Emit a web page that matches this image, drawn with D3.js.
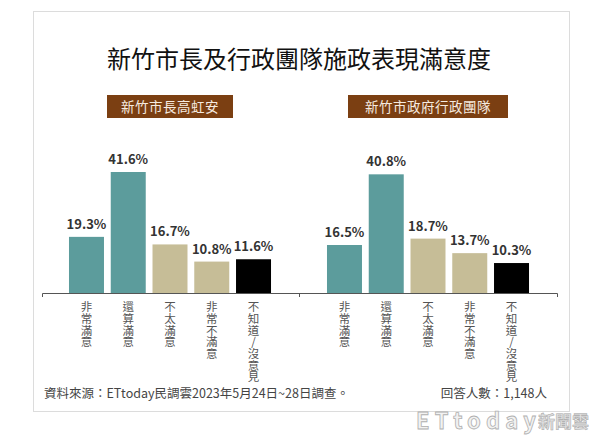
<!DOCTYPE html>
<html>
<head>
<meta charset="utf-8">
<script src="https://cdn.jsdelivr.net/npm/d3@7/dist/d3.min.js"></script>
<style>
  html, body { margin: 0; padding: 0; background: #fff; }
  svg { display: block; }
  text { font-family: "Noto Sans CJK TC", "Noto Sans", sans-serif; }
  .vert { writing-mode: vertical-rl; text-orientation: upright; }
</style>
</head>
<body>
<svg id="chart" width="600" height="435"></svg>
<script>
const title = "新竹市長及行政團隊施政表現滿意度";
const categories = ["非常滿意", "還算滿意", "不太滿意", "非常不滿意", "不知道/沒意見"];
const mayorLabel = "新竹市長高虹安";
const mayorValues = [19.3, 41.6, 16.7, 10.8, 11.6];
const teamLabel = "新竹市政府行政團隊";
const teamValues = [16.5, 40.8, 18.7, 13.7, 10.3];
const colors = ["#5c9c9c", "#5c9c9c", "#c6bd97", "#c6bd97", "#000000"];
const sourceText = "資料來源：ETtoday民調雲2023年5月24日~28日調查。";
const sampleText = "回答人數：1,148人";

const svg = d3.select("#chart");

// frame
svg.append("rect").attr("x", 33.5).attr("y", 11.5).attr("width", 536).attr("height", 400)
  .attr("fill", "#fff").attr("stroke", "#dcdcdc").attr("stroke-width", 1);

// title
svg.append("text").attr("x", 299).attr("y", 68).attr("text-anchor", "middle")
  .attr("font-size", 24).attr("font-weight", 400).attr("fill", "#111").text(title);

const y = d3.scaleLinear().domain([0, 41.6]).range([293, 172]);

function panel(label, values, range, box) {
  const x = d3.scaleBand().domain(categories).range(range).paddingInner(0.162).paddingOuter(0.081);
  const g = svg.append("g");
  // label box
  g.append("rect").attr("x", box[0]).attr("y", 95).attr("width", box[1]).attr("height", 23)
    .attr("fill", "#7b3f12");
  g.append("text").attr("x", box[0] + box[1] / 2).attr("y", 111.5).attr("text-anchor", "middle")
    .attr("font-size", 13.5).attr("fill", "#f6ebe0").attr("letter-spacing", 0.5).text(label);
  // bars
  g.selectAll("rect.bar").data(values).join("rect").attr("class", "bar")
    .attr("x", (d, i) => x(categories[i])).attr("width", x.bandwidth())
    .attr("y", d => y(d)).attr("height", d => y(0) - y(d))
    .attr("fill", (d, i) => colors[i]);
  // value labels
  g.selectAll("text.val").data(values).join("text").attr("class", "val")
    .attr("x", (d, i) => x(categories[i]) + x.bandwidth() / 2)
    .attr("y", d => y(d) - 8).attr("text-anchor", "middle")
    .attr("font-family", "'Open Sans', 'Noto Sans', sans-serif")
    .attr("font-size", 13).attr("font-weight", 600).attr("fill", "#333")
    .text(d => d.toFixed(1) + "%");
  // vertical category labels, one character per text
  categories.forEach(c => {
    const cx = x(c) + x.bandwidth() / 2;
    Array.from(c).forEach((ch, k) => {
      g.append("text").attr("class", "vert")
        .attr("x", cx).attr("y", 301 + k * 11.7)
        .attr("font-size", 11.5).attr("fill", "#555").text(ch);
    });
  });
}

panel(mayorLabel, mayorValues, [65.6, 274.4], [107, 126]);
panel(teamLabel, teamValues, [323.6, 532.4], [348, 160]);

// axis line with bracket ticks
const axis = svg.append("g").attr("stroke", "#555").attr("stroke-width", 1).attr("fill", "none");
axis.append("path").attr("d", "M42.5,297 V293.5 H557.5 V297");
axis.append("path").attr("d", "M299.5,293.5 V297");

// footer
svg.append("text").attr("x", 44).attr("y", 398).attr("font-size", 12.5).attr("fill", "#444").text(sourceText);
svg.append("text").attr("x", 547).attr("y", 398).attr("text-anchor", "end").attr("font-size", 12.5).attr("fill", "#444").text(sampleText);

// watermark
svg.append("text").attr("x", 416).attr("y", 429).attr("font-size", 22).attr("font-weight", 700)
  .attr("font-family", "'Noto Sans', sans-serif").attr("fill", "#f2f2f2").attr("stroke", "#b0b0b0").attr("stroke-width", 0.8)
  .attr("textLength", 120).text("ETtoday");
svg.append("text").attr("x", 538).attr("y", 428).attr("font-size", 17).attr("font-weight", 700)
  .attr("fill", "#e0e0e0").attr("stroke", "#a8a8a8").attr("stroke-width", 0.5).text("新聞雲");
</script>
</body>
</html>
